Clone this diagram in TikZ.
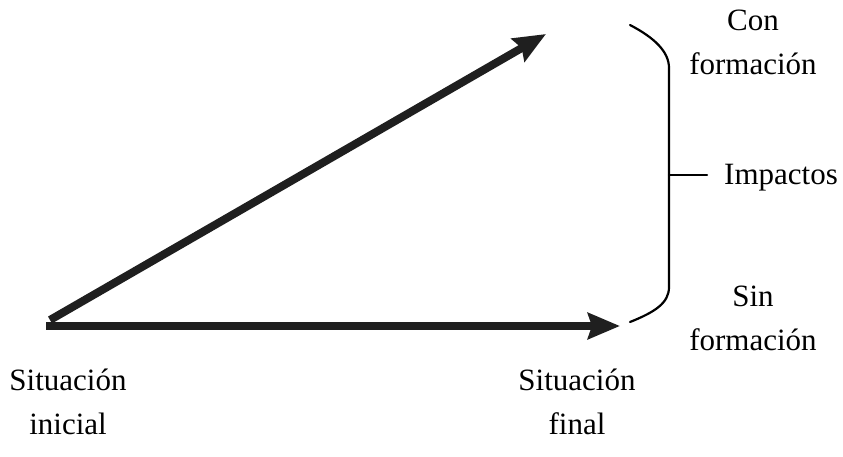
\documentclass[tikz,border=0pt]{standalone}
\usepackage{fontspec}
\setmainfont{Liberation Serif}
\usepackage{tikz}
\usetikzlibrary{
    arrows.meta,
    positioning
}

\begin{document}
\begin{tikzpicture}[
        x=1pt, y=-1pt,
        flecha/.style={
            line width=8pt,
            draw=black!88,
            -{Stealth[length=32pt, width=26pt, inset=4pt]}
        },
        etiqueta/.style={
            align=center,
            font=\fontsize{31}{44}\selectfont,
            inner sep=0pt
        },
        llave/.style={
            line width=2.2pt,
            line cap=round
        }
    ]
        \useasboundingbox (0,0) rectangle (843,456);

        \coordinate (origen) at (50,320);
        \coordinate (origenSin) at (46,326);
        \coordinate (finCon) at (546,34);
        \coordinate (finSin) at (620,326);

        \node[etiqueta] (SI) at (68,402) {Situación\\inicial};
        \node[etiqueta] (SF) at (577,402) {Situación\\final};
        \node[etiqueta] (CF) at (753,42) {Con\\formación};
        \node[etiqueta] (SNF) at (753,318) {Sin\\formación};
        \node[etiqueta, anchor=west] (IMP) at (724,178) {Impactos};

        \coordinate (llaveA) at (630,25);
        \coordinate (llaveB) at (630,322);
        \coordinate (llaveM) at (669,175);
        \coordinate (llaveT) at (707,175);

        \draw[flecha] (origen) -- (finCon);
        \draw[flecha] (origenSin) -- (finSin);

        \draw[llave] (llaveA) .. controls (655,38) and (669,52) .. (669,68)
            -- (669,287) .. controls (669,303) and (655,312) .. (llaveB);
        \draw[llave] (llaveM) -- (llaveT);
    \end{tikzpicture}
\end{document}
